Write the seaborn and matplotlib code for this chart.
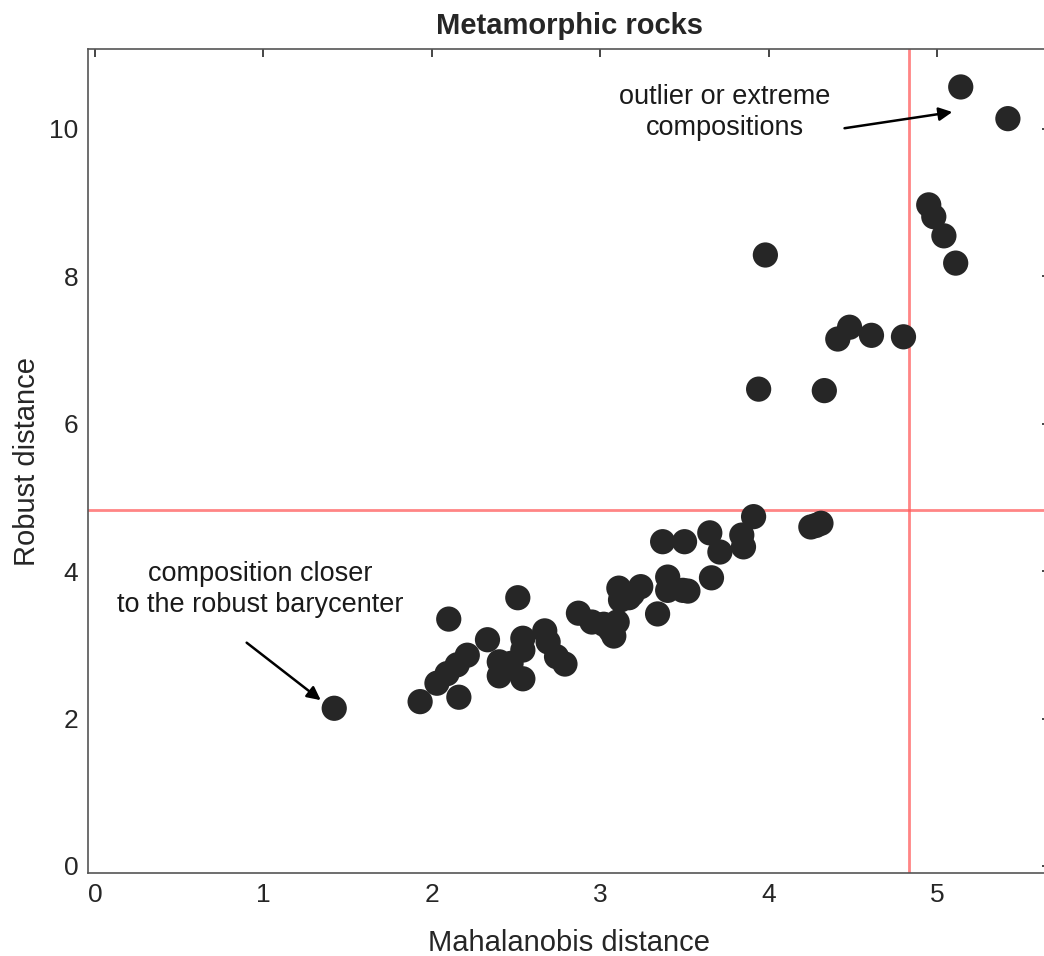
import numpy as np
import pandas as pd
import matplotlib
matplotlib.use("Agg")
import matplotlib.pyplot as plt
import seaborn as sns

# distances
mahalanobis = [1.42, 1.93, 2.03, 2.09, 2.15, 2.21, 2.10, 2.16, 2.33, 2.51,
               2.40, 2.40, 2.47, 2.54, 2.54, 2.54, 2.67, 2.69, 2.74, 2.79,
               2.87, 2.95, 3.02, 3.08, 3.06, 3.10, 3.11, 3.12, 3.17, 3.24,
               3.19, 3.34, 3.40, 3.40, 3.49, 3.52, 3.37, 3.50, 3.65, 3.71,
               3.66, 3.84, 3.85, 3.91, 4.25, 4.31, 4.28,
               3.98, 3.94, 4.33, 4.41, 4.48, 4.61, 4.80,
               5.14, 5.42, 4.95, 4.98, 5.04, 5.11]
robust = [2.14, 2.23, 2.48, 2.61, 2.73, 2.86, 3.35, 2.29, 3.07, 3.64,
          2.77, 2.58, 2.75, 2.54, 3.09, 2.93, 3.19, 3.04, 2.84, 2.74,
          3.43, 3.31, 3.28, 3.12, 3.20, 3.31, 3.77, 3.61, 3.64, 3.79,
          3.69, 3.42, 3.92, 3.74, 3.74, 3.73, 4.40, 4.40, 4.52, 4.26,
          3.91, 4.49, 4.33, 4.74, 4.60, 4.65, 4.62,
          8.29, 6.47, 6.45, 7.15, 7.31, 7.20, 7.18,
          10.57, 10.14, 8.97, 8.81, 8.55, 8.18]
cutoff = 4.83

df = pd.DataFrame({"Mahalanobis": mahalanobis, "Robust": robust})

sns.set_style("white")
plt.rcParams["font.family"] = ["Liberation Sans", "DejaVu Sans"]

fig = plt.figure(figsize=(10.44, 9.56), dpi=100)
ax = fig.add_axes([88 / 1044, 83 / 956, 962 / 1044, 824 / 956])

sns.scatterplot(data=df, x="Mahalanobis", y="Robust", ax=ax, s=330,
                color="#262626", edgecolor="none", zorder=3)

ax.axvline(cutoff, color="#ff5c5c", lw=2, alpha=0.75, zorder=2)
ax.axhline(cutoff, color="#ff5c5c", lw=2, alpha=0.75, zorder=2)

ax.set_xlim(-0.042, 5.67)
ax.set_ylim(-0.095, 11.085)
ax.set_xticks([0, 1, 2, 3, 4, 5])
ax.set_yticks([0, 2, 4, 6, 8, 10])
ax.tick_params(direction="in", length=6, width=1.2, colors="#262626",
               labelsize=19, top=True, right=True, pad=7)
for sp in ax.spines.values():
    sp.set_color("#555555")
    sp.set_linewidth(1.2)

ax.set_xlabel("Mahalanobis distance", fontsize=21, color="#262626", labelpad=16)
ax.set_ylabel("Robust distance", fontsize=21, color="#262626", labelpad=6)
ax.set_title("Metamorphic rocks", fontsize=21, fontweight="bold", pad=11)

arrow = dict(arrowstyle="-|>", color="black", lw=1.8,
             mutation_scale=20, shrinkA=0, shrinkB=0)

ax.text(3.74, 10.22, "outlier or extreme\ncompositions", ha="center",
        va="center", fontsize=19.5, linespacing=1.25, color="#1a1a1a")
ax.annotate("", xy=(5.09, 10.23), xytext=(4.45, 10.01), arrowprops=arrow)
ax.text(0.98, 3.75, "composition closer\nto the robust barycenter",
        ha="center", va="center", fontsize=19.5, linespacing=1.25,
        color="#1a1a1a")
ax.annotate("", xy=(1.34, 2.25), xytext=(0.90, 3.03), arrowprops=arrow)

fig.savefig("out.png", dpi=100)
